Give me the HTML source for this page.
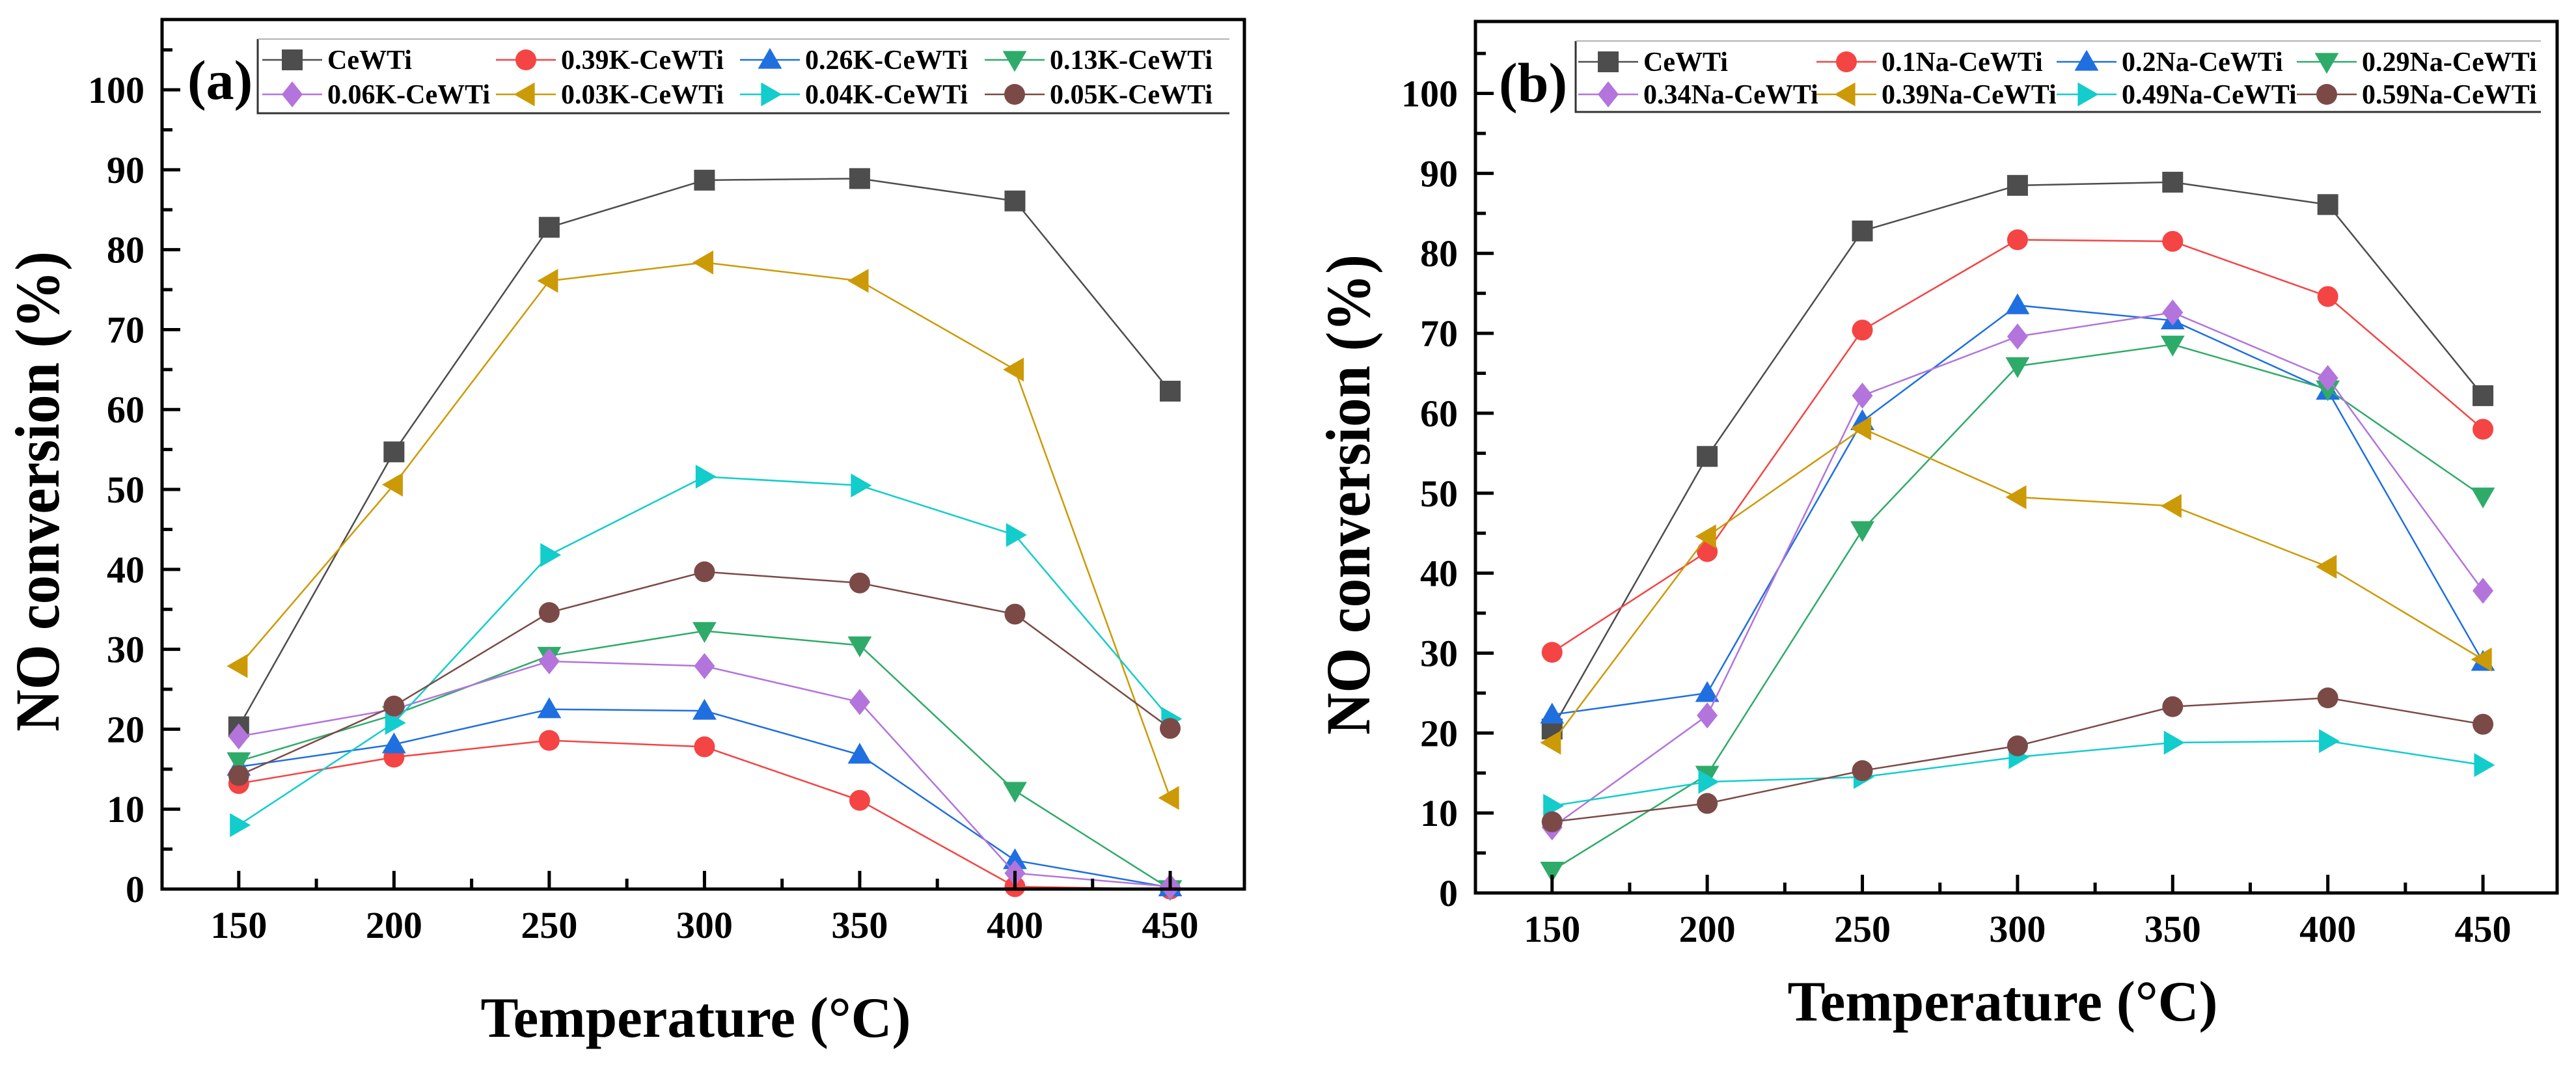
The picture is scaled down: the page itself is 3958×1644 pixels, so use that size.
<!DOCTYPE html>
<html><head><meta charset="utf-8">
<style>
html,body{margin:0;padding:0;background:#fff;}
svg{display:block;}
svg text{font-family:"Liberation Serif","DejaVu Serif","Times New Roman",serif;font-weight:bold;}
</style></head>
<body>
<svg id="fig" width="3958" height="1644" viewBox="0 0 3958 1644" xmlns="http://www.w3.org/2000/svg" font-family="Liberation Serif, serif" font-weight="bold"></svg>
<script>
const temps = [150, 200, 250, 300, 350, 400, 450];
const xTicks = [150, 200, 250, 300, 350, 400, 450];
const yTicks = [0, 10, 20, 30, 40, 50, 60, 70, 80, 90, 100];

const namesA = ["CeWTi","0.39K-CeWTi","0.26K-CeWTi","0.13K-CeWTi","0.06K-CeWTi","0.03K-CeWTi","0.04K-CeWTi","0.05K-CeWTi"];
const a_CeWTi = [20.3, 54.7, 82.8, 88.7, 88.9, 86.1, 62.3];
const a_039K = [13.2, 16.5, 18.6, 17.8, 11.1, 0.3, 0];
const a_026K = [15.3, 18.1, 22.5, 22.3, 16.8, 3.6, 0.2];
const a_013K = [16.0, 21.8, 29.2, 32.3, 30.5, 12.3, 0];
const a_006K = [19.1, 22.5, 28.5, 27.9, 23.4, 2.0, 0.3];
const a_003K = [27.9, 50.6, 76.1, 78.4, 76.1, 65.0, 11.4];
const a_004K = [8.0, 20.8, 41.8, 51.6, 50.5, 44.3, 21.3];
const a_005K = [14.2, 22.9, 34.6, 39.7, 38.3, 34.4, 20.1];

const namesB = ["CeWTi","0.1Na-CeWTi","0.2Na-CeWTi","0.29Na-CeWTi","0.34Na-CeWTi","0.39Na-CeWTi","0.49Na-CeWTi","0.59Na-CeWTi"];
const b_CeWTi = [20.5, 54.6, 82.8, 88.5, 88.9, 86.1, 62.2];
const b_01Na = [30.1, 42.7, 70.4, 81.7, 81.5, 74.6, 58.0];
const b_02Na = [22.3, 25.0, 59.0, 73.5, 71.6, 62.8, 28.9];
const b_029Na = [2.8, 14.8, 45.4, 65.9, 68.6, 63.0, 49.6];
const b_034Na = [8.2, 22.2, 62.2, 69.6, 72.6, 64.4, 37.8];
const b_039Na = [18.8, 44.6, 58.1, 49.5, 48.4, 40.8, 29.2];
const b_049Na = [10.9, 13.9, 14.5, 17.0, 18.8, 19.0, 16.0];
const b_059Na = [8.9, 11.2, 15.3, 18.4, 23.3, 24.4, 21.1];

const colors = ["#4d4d4d","#f44444","#1f6fe0","#2fab69","#b374dc","#cc9a06","#13cccc","#7b4a47"];
const markers = ["square","circle","up","down","diamond","left","right","circle"];

const NS = "http://www.w3.org/2000/svg";
const FONT = '"Liberation Serif", "DejaVu Serif", serif';
const svg = document.getElementById("fig");
function mk(tag, attrs, parent){
  const e = document.createElementNS(NS, tag);
  for (const k in attrs) e.setAttribute(k, attrs[k]);
  if (tag === "text") { e.setAttribute("font-family", FONT); e.setAttribute("font-weight", "bold"); }
  (parent||svg).appendChild(e);
  return e;
}
function marker(g, type, cx, cy, s, color){
  const h = s/2; let e;
  if (type==="square") e = mk("rect",{x:cx-h,y:cy-h,width:s,height:s,fill:color},g);
  else if (type==="circle") e = mk("circle",{cx:cx,cy:cy,r:h,fill:color},g);
  else {
    let p;
    const k = h*1.15;
    if (type==="up") p=[[cx,cy-k],[cx+k,cy+h*0.85],[cx-k,cy+h*0.85]];
    if (type==="down") p=[[cx,cy+k],[cx+k,cy-h*0.85],[cx-k,cy-h*0.85]];
    if (type==="left") p=[[cx-k,cy],[cx+h*0.85,cy-k],[cx+h*0.85,cy+k]];
    if (type==="right") p=[[cx+k,cy],[cx-h*0.85,cy-k],[cx-h*0.85,cy+k]];
    if (type==="diamond") p=[[cx,cy-h*1.25],[cx+h,cy],[cx,cy+h*1.25],[cx-h,cy]];
    e = mk("polygon",{points:p.map(q=>q.join(",")).join(" "),fill:color},g);
  }
  return e;
}

function panel(cfg){
  const L=cfg.L,R=cfg.R,T=cfg.T,B=cfg.B;
  const xmin=cfg.xmin,xmax=cfg.xmax,ymax=cfg.ymax;
  const X = v => L + (v - xmin)/(xmax - xmin)*(R - L);
  const Y = v => B - v/ymax*(B - T);
  const g = mk("g",{});
  
  

  cfg.series.forEach((vals, si) => {
    const sg = mk("g",{}, g);
    
    
    const pts = vals.map((v,i)=>X(temps[i])+","+Y(v)).join(" ");
    const pl = mk("polyline",{points:pts,fill:"none",stroke:colors[si],"stroke-width":2.5},sg);
    
    
    vals.forEach((v,i)=>{
      const m = marker(sg, markers[si], X(temps[i]), Y(v), 32, colors[si]);
      
      
    });
  });

  const fr = mk("rect",{x:L,y:T,width:R-L,height:B-T,fill:"none",stroke:"#000","stroke-width":5},g);
  
  

  xTicks.forEach(t=>{
    const x=X(t);
    mk("line",{x1:x,y1:B,x2:x,y2:B-28,stroke:"#000","stroke-width":5},g);
    const tx = mk("text",{x:x,y:B+75,"font-size":58,"text-anchor":"middle"},g);
    tx.textContent = t;
    
    
    if (t<450) mk("line",{x1:X(t+25),y1:B,x2:X(t+25),y2:B-16,stroke:"#000","stroke-width":5},g);
  });
  yTicks.forEach(t=>{
    const y=Y(t);
    mk("line",{x1:L,y1:y,x2:L+28,y2:y,stroke:"#000","stroke-width":5},g);
    mk("line",{x1:L,y1:Y(t+5),x2:L+16,y2:Y(t+5),stroke:"#000","stroke-width":5},g);
    const ty = mk("text",{x:L-27,y:y+20,"font-size":58,"text-anchor":"end"},g);
    ty.textContent = t;
    
    
  });

  const yt = mk("text",{x:0,y:0,"font-size":96,"text-anchor":"middle",transform:`translate(${cfg.ytx},${cfg.yty}) rotate(-90)`,textLength:738,lengthAdjust:"spacingAndGlyphs"},g);
  yt.textContent = "NO conversion (%)";
  
  
  const xt = mk("text",{x:cfg.xtx,y:cfg.xty,"font-size":88,"text-anchor":"middle",textLength:661,lengthAdjust:"spacingAndGlyphs"},g);
  xt.textContent = "Temperature (°C)";
  
  

  const pl = mk("text",{x:cfg.plx,y:cfg.ply,"font-size":86},g);
  pl.textContent = cfg.label;
  
  

  const lg = mk("g",{},g);
  
  
  mk("polyline",{points:`${cfg.lgL},${cfg.lgT} ${cfg.lgL},${cfg.lgB} ${cfg.lgR},${cfg.lgB}`,fill:"none",stroke:"#333","stroke-width":3},lg);
  mk("line",{x1:cfg.lgL,y1:cfg.lgT,x2:cfg.lgR,y2:cfg.lgT,stroke:"#999","stroke-width":1.5},lg);
  cfg.names.forEach((n,i)=>{
    const col=i%4,row=Math.floor(i/4);
    const mx = cfg.lgCols[col], my = cfg.lgRows[row];
    const eg = mk("g",{},lg);
    
    
    mk("line",{x1:mx-46,y1:my,x2:mx+46,y2:my,stroke:colors[i],"stroke-width":2.5},eg);
    marker(eg, markers[i], mx, my, 32, colors[i]);
    const t = mk("text",{x:mx+54,y:my+14,"font-size":42},eg);
    t.textContent = n;
  });
}

panel({id:"panel-a",L:249,R:1912,T:30,B:1366,xmin:125.3,xmax:473.9,ymax:108.8,
  series:[a_CeWTi,a_039K,a_026K,a_013K,a_006K,a_003K,a_004K,a_005K],names:namesA,
  ytx:90,yty:755,xtx:1069,xty:1593,label:"(a)",plx:288,ply:152,
  lgL:396,lgR:1889,lgT:60,lgB:174,lgCols:[449,808,1183,1559],lgRows:[92,145]});
panel({id:"panel-b",L:2267,R:3929,T:33,B:1372,xmin:125.3,xmax:473.9,ymax:109,
  series:[b_CeWTi,b_01Na,b_02Na,b_029Na,b_034Na,b_039Na,b_049Na,b_059Na],names:namesB,
  ytx:2104,yty:760,xtx:3077,xty:1568,label:"(b)",plx:2303,ply:156,
  lgL:2421,lgR:3904,lgT:63,lgB:172,lgCols:[2471,2837,3206,3575],lgRows:[95,145]});
</script>
</body></html>
